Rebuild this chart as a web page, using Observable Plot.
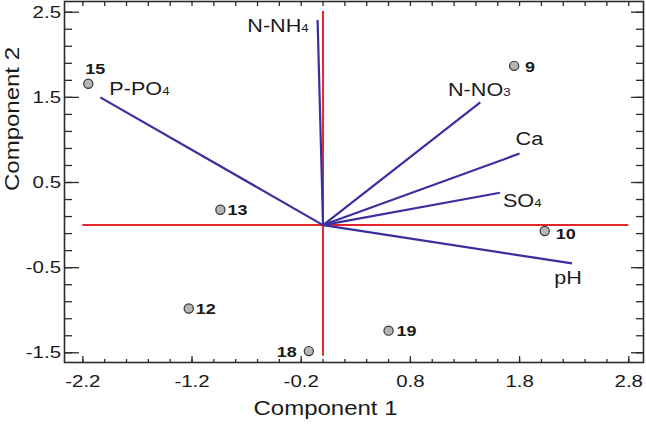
<!DOCTYPE html>
<html><head><meta charset="utf-8">
<script src="https://cdn.jsdelivr.net/npm/d3@7"></script>
<script src="https://cdn.jsdelivr.net/npm/@observablehq/plot@0.6"></script>
<style>body{margin:0;background:#fff}</style>
</head><body><div id="chart"></div>
<script>
// ---- data ----
const pointIds = ["15","13","9","10","12","18","19"];
const pointX = [-2.15,-0.94,1.75,2.03,-1.23,-0.13,0.60];
const pointY = [1.66,0.18,1.87,-0.07,-0.98,-1.48,-1.24];
const varNames = ["N-NH4","P-PO4","N-NO3","Ca","SO4","pH"];
const varX = [-0.05,-2.04,1.44,1.80,1.62,2.28];
const varY = [2.41,1.50,1.44,0.84,0.38,-0.45];
const xTicks = [-2.2,-1.2,-0.2,0.8,1.8,2.8];
const yTicks = [-1.5,-0.5,0.5,1.5,2.5];
const xMinorTicks = d3.range(-22, 29, 2).map(v => v/10);
const yMinorTicks = d3.range(-15, 26, 2).map(v => v/10);
const axisLineX = [-2.2, 2.8];
const axisLineY = [-1.54, 2.51];
const xTitle = "Component 1";
const yTitle = "Component 2";

// ---- layout ----
const W=646, H=431, mL=64, mR=3, mT=1, mB=69;
const iw = W-mL-mR, ih = H-mT-mB;
const red="#e3262b", blue="#3b2f9e", ink="#2b2b2b";
const pts = pointIds.map((id,i)=>({id, x:pointX[i], y:pointY[i]}));
const vars = varNames.map((name,i)=>({name, x:varX[i], y:varY[i]}));
const varPlace = {"N-NH4":[-9,6,"end"], "P-PO4":[9,-8,"start"], "N-NO3":[-1,-12,"middle"], "Ca":[-4,-14,"start"], "SO4":[3,9,"start"], "pH":[-4,15,"middle"]};
const ptPlace = {"15":[-3,-15,"start"], "13":[7,0,"start"], "9":[11,1,"start"], "10":[11,3,"start"], "12":[7,1,"start"], "18":[-12,1,"end"], "19":[8,1,"start"]};

const varLabelMarks = vars.map(v => Plot.text([v], {x:"x", y:"y", text:"name", dx:varPlace[v.name][0], dy:varPlace[v.name][1], textAnchor:varPlace[v.name][2], fontSize:18, fill:"#1a1a1a"}));
const ptLabelMarks = pts.map(p => Plot.text([p], {x:"x", y:"y", text:"id", dx:ptPlace[p.id][0], dy:ptPlace[p.id][1], textAnchor:ptPlace[p.id][2], fontSize:15, fontWeight:"bold", fill:"#1a1a1a"}));

const plot = Plot.plot({
  width: W, height: H, marginLeft: mL, marginRight: mR, marginTop: mT, marginBottom: mB,
  x: {domain: [-2.368, 2.935], axis: null},
  y: {domain: [-1.614, 2.626], axis: null},
  style: {fontFamily: "'Liberation Sans', Arial, sans-serif", background: "#fff", color: ink},
  marks: [
    Plot.ruleY([0], {x1: axisLineX[0], x2: axisLineX[1], stroke: red, strokeWidth: 2}),
    Plot.ruleX([0], {y1: axisLineY[0], y2: axisLineY[1], stroke: red, strokeWidth: 2}),
    Plot.link(vars, {x1: 0, y1: 0, x2: "x", y2: "y", stroke: blue, strokeWidth: 2.2}),
    // ticks (inward)
    Plot.tickX(xMinorTicks, {x: d=>d, insetTop: ih-3, stroke: ink, strokeWidth: 1.3}),
    Plot.tickX(xTicks, {x: d=>d, insetTop: ih-6, stroke: ink, strokeWidth: 1.3}),
    Plot.tickX(xMinorTicks, {x: d=>d, insetBottom: ih-5, stroke: ink, strokeWidth: 1.3}),
    Plot.tickY(yMinorTicks, {y: d=>d, insetRight: iw-8, stroke: ink, strokeWidth: 1.3}),
    Plot.tickY(yTicks, {y: d=>d, insetRight: iw-15, stroke: ink, strokeWidth: 1.3}),
    Plot.tickY(yMinorTicks, {y: d=>d, insetLeft: iw-7, stroke: ink, strokeWidth: 1.3}),
    Plot.tickY(yTicks, {y: d=>d, insetLeft: iw-12, stroke: ink, strokeWidth: 1.3}),
    Plot.frame({stroke: ink, strokeWidth: 1.6}),
    // tick labels
    Plot.text(xTicks, {x: d=>d, frameAnchor: "bottom", lineAnchor: "middle", dy: 19, text: d=>d.toFixed(1), fontSize: 17, fill: "#1a1a1a"}),
    Plot.text(yTicks, {y: d=>d, frameAnchor: "left", dx: -3.5, textAnchor: "end", lineAnchor: "middle", text: d=>d.toFixed(1), fontSize: 17, fill: "#1a1a1a"}),
    // titles
    Plot.text([xTitle], {frameAnchor: "bottom", lineAnchor: "middle", textAnchor: "middle", dx: -28.5, dy: 46, fontSize: 20, fill: "#1a1a1a"}),
    Plot.text([yTitle], {frameAnchor: "left", rotate: -90, textAnchor: "middle", lineAnchor: "middle", dx: -52, dy: -63, fontSize: 20, fill: "#1a1a1a"}),
    // data
    Plot.dot(pts, {x: "x", y: "y", r: 4.6, fill: "#b5b5b5", stroke: "#333", strokeWidth: 1.2}),
    ...varLabelMarks,
    ...ptLabelMarks
  ]
});
document.getElementById("chart").append(plot);

// subscripts for chemical labels
const varSet = new Set(varNames);
plot.querySelectorAll("text").forEach(t => {
  if (!varSet.has(t.textContent)) return;
  const m = t.textContent.match(/^(.*?)(\d)$/);
  if (m) {
    t.textContent = m[1];
    const ts = document.createElementNS("http://www.w3.org/2000/svg", "tspan");
    ts.setAttribute("font-size", "11");
    ts.textContent = m[2];
    t.append(ts);
  }
});
// wide lettering as in the reference
plot.querySelectorAll("text").forEach(t => {
  const tr = t.getAttribute("transform");
  if (tr && tr.includes("rotate")) {
    t.setAttribute("transform", tr + " scale(1.2,1)");
    return;
  }
  const w = t.getComputedTextLength();
  if (w > 0) {
    t.setAttribute("textLength", (w*1.2).toFixed(1));
    t.setAttribute("lengthAdjust", "spacingAndGlyphs");
  }
});
</script>
</body></html>
